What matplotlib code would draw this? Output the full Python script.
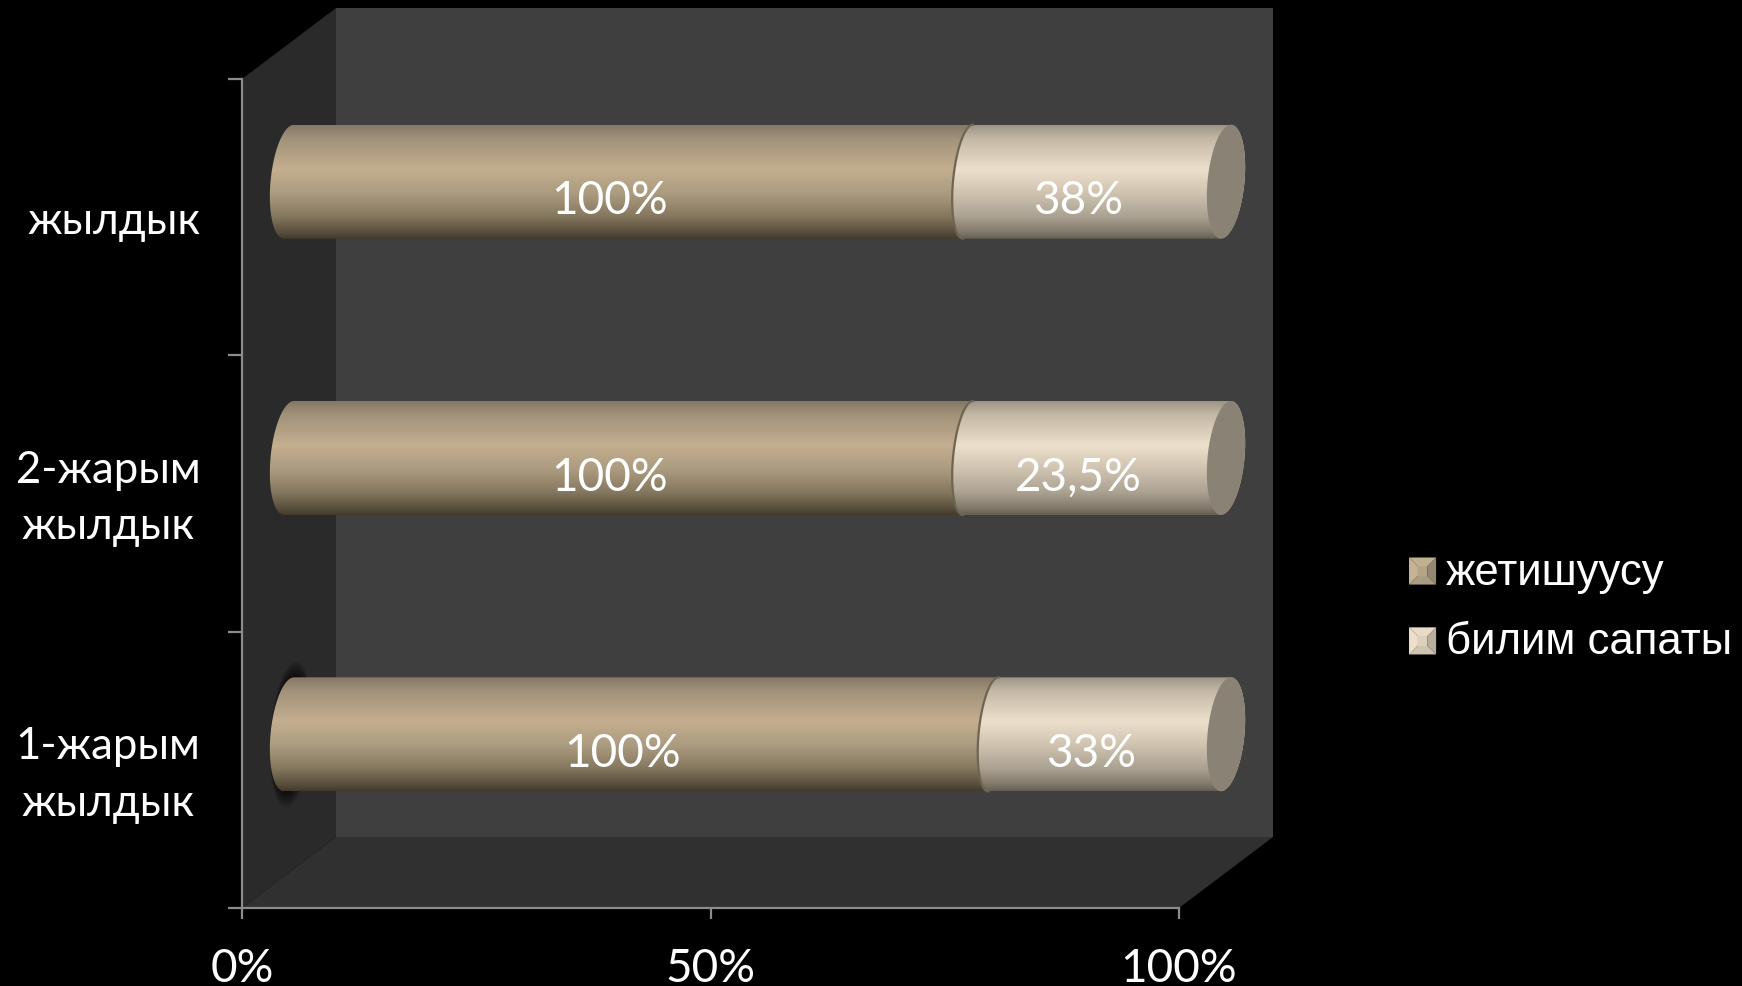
import matplotlib
matplotlib.use('Agg')
import matplotlib.pyplot as plt
import numpy as np
from matplotlib.colors import LinearSegmentedColormap
from matplotlib.legend_handler import HandlerBase
from matplotlib.patches import Patch, Polygon, PathPatch
from matplotlib.path import Path
from matplotlib.transforms import ScaledTranslation

plt.rcParams['font.family'] = ['Lato', 'Liberation Sans']

# data, bottom category first
categories = ['1-жарым\nжылдык', '2-жарым\nжылдык', 'жылдык']
series_names = ['жетишуусу', 'билим сапаты']
achieved = [100, 100, 100]
quality = [33, 38, 38]
achieved_labels = ['100%', '100%', '100%']
quality_labels = ['33%', '23,5%', '38%']
x_ticks = [0, 0.5, 1]
x_tick_labels = ['0%', '50%', '100%']

W, H = 1742, 987
X0, X1 = 242, 1179
Y_TOP, Y_BOT = 80, 909
DX = 94 / (X1 - X0)
DY = 71 / ((Y_BOT - Y_TOP) / 3)
BAR_B = 57 / ((Y_BOT - Y_TOP) / 3)
ELL_A = 18.5 / (X1 - X0)
ELL_MID = 15 / (X1 - X0)  # the joint between the two parts is a flatter curve
ELL_S = 5 / (X1 - X0)

grad_dark = [(0, '#857864'), (0.12, '#a1927a'), (0.39, '#c4af8f'), (0.6, '#ab9b80'),
             (0.8, '#85785f'), (0.93, '#5d5240'), (1, '#453b2c')]
grad_light = [(0, '#9c9486'), (0.12, '#c5b9a6'), (0.39, '#ecdfcb'), (0.6, '#cfc3b0'),
              (0.8, '#aca292'), (0.93, '#857d6f'), (1, '#665f53')]
cmap_dark = LinearSegmentedColormap.from_list('dark', grad_dark)
cmap_light = LinearSegmentedColormap.from_list('light', grad_light)
CAP = '#8a8274'


def half_ellipse(cx, cy, left=True, a=ELL_A, n=40):
    if left:
        t = np.linspace(np.pi / 2, 3 * np.pi / 2, n)
    else:
        t = np.linspace(-np.pi / 2, np.pi / 2, n)
    return np.column_stack([cx + a * np.cos(t) + ELL_S * np.sin(t), cy + BAR_B * np.sin(t)])


def draw_segment(ax, x0, x1, cy, cmap, z, a_left=ELL_A):
    verts = np.vstack([half_ellipse(x0, cy, True, a_left), half_ellipse(x1, cy, False)])
    grad = np.linspace(0, 1, 256).reshape(-1, 1)
    im = ax.imshow(grad, cmap=cmap, aspect='auto', origin='upper', zorder=z, interpolation='bilinear',
                   extent=[x0 - 2 * ELL_A, x1 + 2 * ELL_A, cy - BAR_B, cy + BAR_B])
    # the image would otherwise stop at the axes edge
    im.set_clip_box(ax.figure.bbox)
    im.set_clip_path(PathPatch(Path(np.vstack([verts, verts[:1]])), transform=ax.transData))


class BevelHandler(HandlerBase):
    def create_artists(self, legend, orig, xd, yd, w, h, fontsize, trans):
        cols = orig.bevel
        s = 19.5
        x, y = (w - s) / 2 - xd, (h - s) / 2 - yd - 2
        i = s * 0.33
        o = [(x, y), (x + s, y), (x + s, y + s), (x, y + s)]
        n = [(x + i, y + i), (x + s - i, y + i), (x + s - i, y + s - i), (x + i, y + s - i)]
        out = []
        for k in range(4):
            pts = [o[k], o[(k + 1) % 4], n[(k + 1) % 4], n[k]]
            out.append(Polygon(pts, closed=True, facecolor=cols[k], edgecolor='none', transform=trans))
        out.append(Polygon(n, closed=True, facecolor=cols[4], edgecolor='none', transform=trans))
        return out


fig = plt.figure(figsize=(W / 100, H / 100), dpi=100, facecolor='black')
ax = fig.add_axes([X0 / W, 1 - Y_BOT / H, (X1 - X0) / W, (Y_BOT - Y_TOP) / H])
ax.set_facecolor('none')

# walls
ax.add_patch(Polygon([(DX, DY), (1 + DX, DY), (1 + DX, 3 + DY), (DX, 3 + DY)], facecolor='#3f3f3f', edgecolor='none', clip_on=False, zorder=1))
ax.add_patch(Polygon([(0, 0), (DX, DY), (DX, 3 + DY), (0, 3)], facecolor='#2a2a2a', edgecolor='none', clip_on=False, zorder=1))
ax.add_patch(Polygon([(0, 0), (1, 0), (1 + DX, DY), (DX, DY)], facecolor='#303030', edgecolor='none', clip_on=False, zorder=1))

total = np.array(achieved) + np.array(quality)
split = np.array(achieved) / total

# dark halo behind the lowest bar
t = np.linspace(0, 2 * np.pi, 80)
for k in np.linspace(1.28, 1.0, 14):
    cy = 0.5 + DY / 2
    cx = DX / 2 + 0.002
    ax.add_patch(Polygon(np.column_stack([cx + ELL_A * (1 + (k - 1) * 0.4) * np.cos(t) + ELL_S * np.sin(t), cy + BAR_B * k * np.sin(t)]),
                         facecolor='black', alpha=0.06, edgecolor='none', clip_on=False, zorder=2))

for i in range(len(categories)):
    cy = i + 0.5 + DY / 2
    start = DX / 2
    mid = start + split[i]
    end = start + 1
    draw_segment(ax, start, mid, cy, cmap_dark, 3)
    draw_segment(ax, mid, end, cy, cmap_light, 4, ELL_MID)
    edge = half_ellipse(mid, cy, True, ELL_MID)
    ax.plot(edge[:, 0], edge[:, 1], color='#6e6553', lw=1.6, zorder=5, clip_on=False)
    tt = np.linspace(0, 2 * np.pi, 100)
    ax.add_patch(Polygon(np.column_stack([end + ELL_A * np.cos(tt) + ELL_S * np.sin(tt), cy + BAR_B * np.sin(tt)]),
                         facecolor=CAP, edgecolor='none', clip_on=False, zorder=6))
    ty = i + 0.5 + 17 / ((Y_BOT - Y_TOP) / 3)
    ox = 28 / (X1 - X0)
    ax.text(split[i] / 2 + ox, ty, achieved_labels[i], color='white', fontsize=33, ha='center', va='center', zorder=7)
    ax.text(split[i] + (1 - split[i]) / 2 + ox, ty, quality_labels[i], color='white', fontsize=33, ha='center', va='center', zorder=7)

ax.set_xlim(0, 1)
ax.set_ylim(0, 3)
for name in ['top', 'right']:
    ax.spines[name].set_visible(False)
for name in ['left', 'bottom']:
    ax.spines[name].set_color('#8c8c8c')
    ax.spines[name].set_linewidth(1.6)
    ax.spines[name].set_zorder(8)

ax.set_xticks(x_ticks)
ax.set_xticklabels(x_tick_labels)
ax.set_yticks([0, 1, 2, 3])
ax.set_yticklabels([])
ax.set_yticks([0.5, 1.5, 2.5], minor=True)
ax.set_yticklabels(categories, minor=True, color='white', fontsize=31.5)
ax.tick_params(axis='y', which='major', length=10, width=1.6, color='#8c8c8c')
ax.tick_params(axis='y', which='minor', length=0, pad=30)
ax.tick_params(axis='x', length=8, width=1.6, color='#8c8c8c', labelcolor='white', labelsize=33, pad=20)
for lab in ax.get_yticklabels(minor=True):
    lab.set_multialignment('center')
    lab.set_linespacing(1.48)
    up = 8 if '\n' in lab.get_text() else 1
    lab.set_transform(lab.get_transform() + ScaledTranslation(0, up / 100, fig.dpi_scale_trans))

h1 = Patch(label=series_names[0])
h1.bevel = ['#ab9d83', '#938871', '#c0b090', '#c6b393', '#b3a488']
h2 = Patch(label=series_names[1])
h2.bevel = ['#d0c4b0', '#b8ae9c', '#e8dcc8', '#ecdfcb', '#ddd1bd']
leg = fig.legend(handles=[h1, h2], handler_map={Patch: BevelHandler()}, frameon=False, labelcolor='white',
                 prop={'family': ['Liberation Sans'], 'size': 31.5}, loc='center left',
                 bbox_to_anchor=(1409 / W, 1 - 608 / H), borderpad=0, borderaxespad=0,
                 handlelength=0.62, handletextpad=0.22, labelspacing=0.66)

fig.savefig('out.png', dpi=100, facecolor='black')
